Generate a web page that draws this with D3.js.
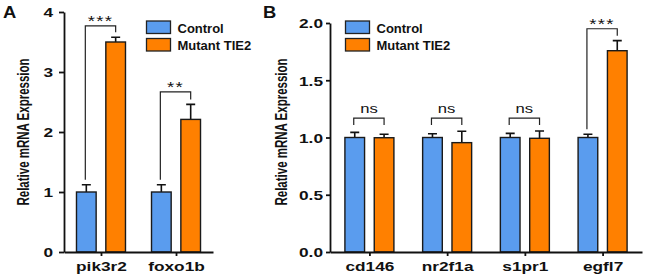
<!DOCTYPE html>
<html>
<head>
<meta charset="utf-8">
<script src="https://cdn.jsdelivr.net/npm/d3@7"></script>
<style>
  body { margin: 0; background: #fff; }
  svg { display: block; }
  text { font-family: "Liberation Sans", Arial, sans-serif; fill: #111; }
</style>
</head>
<body>
<div id="chart"></div>
<script>
// Relative mRNA expression, two panels

const seriesNames = ['Control', 'Mutant TIE2'];
const seriesColors = ['#5a9cee', '#ff8000'];

// Panel A
const categoriesA = ['pik3r2', 'foxo1b'];
const controlA = [1.0, 1.0];
const controlErrA = [0.12, 0.12];
const mutantA = [3.5, 2.21];
const mutantErrA = [0.08, 0.25];
const sigLabelA = ['***', '**'];
const sigLevelA = [3.77, 2.67];
const ticksA = [0, 1, 2, 3, 4];

// Panel B
const categoriesB = ['cd146', 'nr2f1a', 's1pr1', 'egfl7'];
const controlB = [1.0, 1.0, 1.0, 1.0];
const controlErrB = [0.045, 0.033, 0.036, 0.028];
const mutantB = [0.998, 0.955, 0.993, 1.758];
const mutantErrB = [0.03, 0.10, 0.064, 0.088];
const sigLabelB = ['ns', 'ns', 'ns', '***'];
const sigLevelB = [1.17, 1.17, 1.17, 1.95];
const ticksB = [0, 0.5, 1, 1.5, 2];

const SX = 1.28; // the figure is stretched horizontally

const svg = d3.select('#chart')
    .append('svg')
    .attr('width', 645)
    .attr('height', 280);

function drawPanel(cfg) {
    const x = d3.scalePoint()
        .domain(cfg.categories)
        .range([cfg.left, cfg.right])
        .padding(cfg.pad);

    const sub = d3.scaleBand()
        .domain(seriesNames)
        .range([-24.5, 24.5])
        .paddingInner(0.33);

    const y = d3.scaleLinear()
        .domain([0, d3.max(cfg.ticks)])
        .range([252, cfg.top]);

    const g = svg.append('g');

    // bars + error bars
    const rows = cfg.categories.map((c, i) => ({
        cat: c,
        vals: [
            { s: seriesNames[0], v: cfg.control[i], e: cfg.controlErr[i], col: seriesColors[0] },
            { s: seriesNames[1], v: cfg.mutant[i], e: cfg.mutantErr[i], col: seriesColors[1] }
        ],
        sig: cfg.sigLabel[i],
        level: cfg.sigLevel[i]
    }));

    const grp = g.selectAll('.grp')
        .data(rows)
        .enter()
        .append('g')
        .attr('transform', d => `translate(${x(d.cat)},0)`);

    grp.selectAll('.err')
        .data(d => d.vals)
        .enter()
        .append('path')
        .attr('d', d => {
            const cx = sub(d.s) + sub.bandwidth() / 2;
            const t = y(d.v + d.e);
            return `M${cx},${y(d.v)}V${t}M${cx - 4.5},${t}H${cx + 4.5}`;
        })
        .style('stroke', '#111')
        .style('stroke-width', 1.6)
        .style('fill', 'none');

    grp.selectAll('.bar')
        .data(d => d.vals)
        .enter()
        .append('rect')
        .attr('x', d => sub(d.s))
        .attr('width', sub.bandwidth())
        .attr('y', d => y(d.v))
        .attr('height', d => y(0) - y(d.v))
        .style('fill', d => d.col)
        .style('stroke', '#1a1a1a')
        .style('stroke-width', 1.4);

    // significance brackets
    grp.append('path')
        .attr('d', d => {
            const x0 = sub(seriesNames[0]) + sub.bandwidth() / 2 - 1;
            const x1 = sub(seriesNames[1]) + sub.bandwidth() / 2;
            const top = y(d.level);
            let y0, y1;
            if (d.sig === 'ns') {
                y0 = top + 7;
                y1 = top + 7;
            } else {
                y0 = y(d.vals[0].v + d.vals[0].e) - 5;
                y1 = y(d.vals[1].v + d.vals[1].e) - 5;
            }
            return `M${x0},${y0}V${top}H${x1}V${y1}`;
        })
        .style('stroke', '#222')
        .style('stroke-width', 1.2)
        .style('fill', 'none');

    grp.append('text')
        .attr('transform', d => {
            const cx = (sub(seriesNames[0]) + sub(seriesNames[1]) + sub.bandwidth()) / 2 - 0.5;
            const off = d.sig === 'ns' ? 5 : 0;
            return `translate(${cx},${y(d.level) - off}) scale(${SX},1)`;
        })
        .attr('text-anchor', 'middle')
        .style('font-size', d => d.sig === 'ns' ? '13px' : '14.5px')
        .style('letter-spacing', d => d.sig === 'ns' ? '0px' : '1px')
        .text(d => d.sig);

    // axes
    const yAxis = g.append('g')
        .attr('transform', `translate(${cfg.left},0)`)
        .call(d3.axisLeft(y).tickValues(cfg.ticks).tickSize(cfg.tick).tickSizeOuter(0)
            .tickFormat(cfg.fmt));
    yAxis.selectAll('path, line').style('stroke', '#111').style('stroke-width', 1.8);
    yAxis.selectAll('text')
        .attr('x', -cfg.labelGap / SX)
        .attr('dy', '0.36em')
        .attr('transform', `scale(${SX},1)`)
        .style('font-size', '13.5px')
        .style('font-weight', 'bold')
        .style('fill', '#111');

    const xAxis = g.append('g')
        .attr('transform', 'translate(0,252)')
        .call(d3.axisBottom(x).tickSize(4).tickSizeOuter(0));
    xAxis.selectAll('path, line').style('stroke', '#111').style('stroke-width', 1.8);
    xAxis.selectAll('text')
        .attr('y', 19)
        .attr('dy', 0)
        .attr('transform', `scale(${SX},1)`)
        .style('font-size', '13.5px')
        .style('font-weight', 'bold')
        .style('fill', '#111');

    // y label
    g.append('text')
        .attr('transform', `translate(${cfg.yLabelX},132) scale(1.4,1) rotate(-90)`)
        .attr('text-anchor', 'middle')
        .style('font-size', '11.5px')
        .style('font-weight', 'bold')
        .text('Relative mRNA Expression');

    // panel letter
    g.append('text')
        .attr('transform', `translate(${cfg.letterX},18) scale(1.15,1)`)
        .style('font-size', '16px')
        .style('font-weight', 'bold')
        .text(cfg.letter);

    // legend
    const legend = g.selectAll('.legend')
        .data(seriesNames)
        .enter()
        .append('g')
        .attr('transform', (d, i) => `translate(${cfg.legendX},${21 + i * 17.5})`);

    legend.append('rect')
        .attr('width', 24)
        .attr('height', 12.5)
        .style('fill', (d, i) => seriesColors[i])
        .style('stroke', '#222')
        .style('stroke-width', 1.3);

    legend.append('text')
        .attr('x', 31)
        .attr('y', 11.5)
        .style('font-size', '13px')
        .style('font-weight', 'bold')
        .text(d => d);
}

drawPanel({
    categories: categoriesA, control: controlA, controlErr: controlErrA,
    mutant: mutantA, mutantErr: mutantErrA, sigLabel: sigLabelA, sigLevel: sigLevelA,
    ticks: ticksA, fmt: d3.format('d'),
    left: 64, right: 213, pad: 0.493, top: 12, tick: 5, labelGap: 11,
    yLabelX: 29, letter: 'A', letterX: 3, legendX: 146.5
});

drawPanel({
    categories: categoriesB, control: controlB, controlErr: controlErrB,
    mutant: mutantB, mutantErr: mutantErrB, sigLabel: sigLabelB, sigLevel: sigLevelB,
    ticks: ticksB, fmt: d3.format('.1f'),
    left: 330, right: 642, pad: 0.507, top: 23, tick: 4, labelGap: 7,
    yLabelX: 287, letter: 'B', letterX: 263, legendX: 345.5
});
</script>
</body>
</html>
